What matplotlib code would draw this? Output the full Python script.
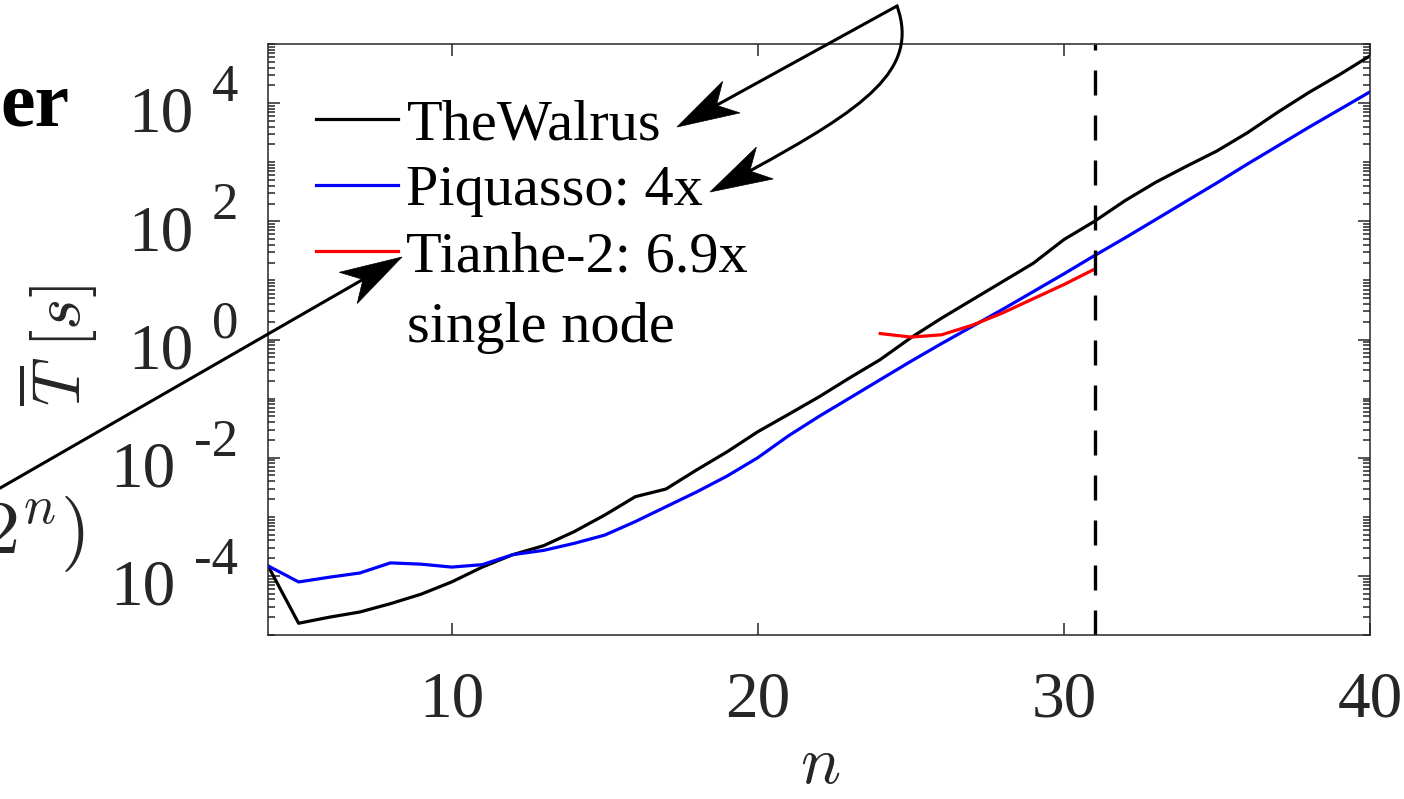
import numpy as np
import matplotlib
matplotlib.use('Agg')
import matplotlib.pyplot as plt
from matplotlib.ticker import LogLocator, NullFormatter, FixedLocator
from matplotlib.transforms import Affine2D
from matplotlib.lines import Line2D
from matplotlib.patches import Polygon, PathPatch
from matplotlib.path import Path

plt.rcParams['font.family'] = ['Liberation Serif', 'DejaVu Serif']
plt.rcParams['mathtext.fontset'] = 'cm'

# ---------------- data ----------------
n_values = list(range(4, 41))
walrus_times = [1.48e-4, 1.58e-5, 2.0e-5, 2.45e-5, 3.39e-5, 4.9e-5, 7.9e-5, 1.41e-4,
                2.29e-4, 3.24e-4, 5.6e-4, 1.07e-3, 2.19e-3, 2.95e-3, 6.2e-3, 1.26e-2,
                2.75e-2, 5.4e-2, 0.107, 0.224, 0.457, 1.07, 2.29, 4.68, 9.55, 19.5,
                49.0, 100.0, 224.0, 457.0, 851.0, 1549.0, 3162.0, 7080.0, 15100.0,
                30200.0, 63100.0]
piquasso_times = [1.48e-4, 7.9e-5, 9.5e-5, 1.12e-4, 1.66e-4, 1.58e-4, 1.41e-4, 1.55e-4,
                  2.29e-4, 2.7e-4, 3.55e-4, 4.9e-4, 8.3e-4, 1.48e-3, 2.63e-3, 4.9e-3,
                  1.0e-2, 2.34e-2, 5.0e-2, 0.102, 0.209, 0.427, 0.851, 1.66, 3.24, 6.46,
                  12.9, 26.3, 52.5, 107.0, 219.0, 447.0, 933.0, 1905.0, 3890.0, 7760.0,
                  15500.0]
tianhe_n = list(range(24, 32))
tianhe_times = [1.26, 1.10, 1.20, 1.74, 2.82, 4.9, 8.5, 15.5]
cutoff_n = 31

legend_labels = ['TheWalrus', 'Piquasso: 4x', 'Tianhe-2: 6.9x']
legend_extra_line = 'single node'
x_ticks = [10, 20, 30, 40]
y_tick_exponents = [-4, -2, 0, 2, 4]

# ---------------- figure ----------------
W, H = 1404, 799
fig = plt.figure(figsize=(W / 100, H / 100), dpi=100)
ax = fig.add_axes([268 / W, 1 - 635 / H, (1370 - 268) / W, (635 - 44) / H])

lw = 2.3
ax.plot(n_values, walrus_times, color='black', lw=lw, label=legend_labels[0])
ax.plot(n_values, piquasso_times, color='#0000ff', lw=lw, label=legend_labels[1])
ax.plot(tianhe_n, tianhe_times, color='#ff0000', lw=lw, label=legend_labels[2])
ax.axvline(cutoff_n, color='black', lw=2.4, linestyle=(0, (7.5, 6)))

ax.set_yscale('log')
ax.set_xlim(4, 40)
ax.set_ylim(1e-5, 1e5)

grey = '#262626'
ax.xaxis.set_major_locator(FixedLocator(x_ticks))
ax.yaxis.set_major_locator(FixedLocator([10.0 ** e for e in y_tick_exponents]))
ax.yaxis.set_minor_locator(LogLocator(base=10, subs=np.arange(1, 10), numticks=100))
ax.yaxis.set_major_formatter(NullFormatter())
ax.yaxis.set_minor_formatter(NullFormatter())
ax.tick_params(which='both', direction='in', top=True, right=True, color=grey, width=1.1)
ax.tick_params(which='major', length=8.6)
ax.tick_params(which='minor', length=5)
ax.tick_params(axis='x', labelsize=47, labelcolor=grey, pad=26)
for s in ax.spines.values():
    s.set_color(grey)
    s.set_linewidth(1.1)

# y tick labels in "10 ^e" style
for e in y_tick_exponents:
    base_off = -75 if e >= 0 else -92
    ax.annotate('10', xy=(0, 10.0 ** e), xycoords=('axes fraction', 'data'),
                xytext=(base_off, -13), textcoords='offset pixels',
                ha='right', va='center', fontsize=47, color=grey, annotation_clip=False)
    ax.annotate(str(e), xy=(0, 10.0 ** e), xycoords=('axes fraction', 'data'),
                xytext=(-30, 15), textcoords='offset pixels',
                ha='right', va='center', fontsize=38, color=grey, annotation_clip=False)

# axis labels
fig.text(58 / W, 1 - 346 / H, r'$\overline{T}\ [s]$', rotation=90,
         ha='center', va='center', fontsize=48, color=grey)
fig.text(820 / W, 1 - 767 / H, r'$n$', ha='center', va='center', fontsize=48, color=grey)

# legend
leg = ax.legend(loc='upper left', bbox_to_anchor=(0.0436, 0.907), frameon=False,
                fontsize=42, handlelength=1.4, handletextpad=0.15, labelspacing=0.22,
                borderpad=0, borderaxespad=0)
ax.annotate(legend_extra_line, xy=(407 / W, 1 - 328 / H), xycoords='figure fraction',
            ha='left', va='center', fontsize=42, color='black')

# ---------------- decorations outside axes (image pixel coords) ----------------
pix = Affine2D().scale(1 / W, -1 / H).translate(0, 1) + fig.transFigure

fig.text(0, 1 - 125 / H, 'er', fontsize=56, fontweight='bold', color='black',
         ha='left', va='baseline')
fig.text(84 / W, 1 - 553 / H, r'$\mathcal{O}(2^n)$', fontsize=55, color=grey,
         ha='right', va='baseline')


def head(tip, frm, L=62, N=45, hw=18):
    tip = np.array(tip, float)
    u = tip - np.array(frm, float)
    u /= np.hypot(*u)
    nrm = np.array([-u[1], u[0]])
    pts = [tip, tip - L * u + hw * nrm, tip - N * u, tip - L * u - hw * nrm]
    fig.add_artist(Polygon(pts, closed=True, transform=pix, fc='black', ec='black',
                           lw=0.5, clip_on=False))
    return tip - N * u


alw = 2.2
# straight arrow from left to Tianhe legend entry
start, tip = (-5, 491), (402, 257)
notch = head(tip, start)
fig.add_artist(Line2D([start[0], notch[0]], [start[1], notch[1]], transform=pix,
                      color='black', lw=alw))
# arrow to TheWalrus
start, tip = (897, 6), (677, 127)
notch = head(tip, start)
fig.add_artist(Line2D([start[0], notch[0]], [start[1], notch[1]], transform=pix,
                      color='black', lw=alw))
# curved arrow to Piquasso
tip = (710, 192)
p2 = (865, 108)
notch = head(tip, (780, 155))
verts = [(897, 6), (920, 70), p2, tuple(notch)]
path = Path(verts, [Path.MOVETO, Path.CURVE4, Path.CURVE4, Path.CURVE4])
fig.add_artist(PathPatch(path, transform=pix, fc='none', ec='black', lw=alw))

fig.savefig('out.png', dpi=100)
